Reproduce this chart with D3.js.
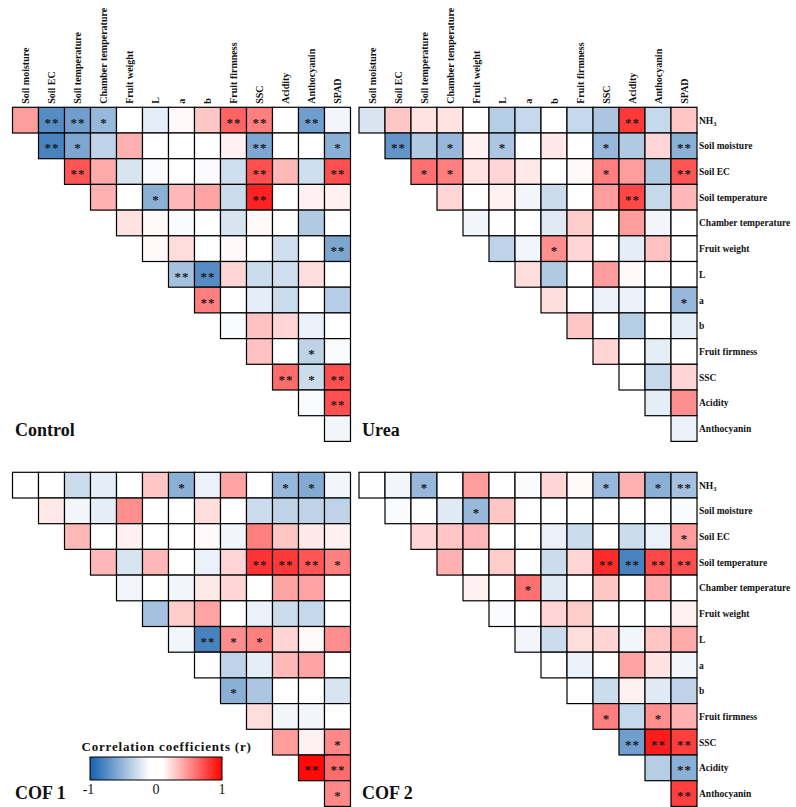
<!DOCTYPE html>
<html><head><meta charset="utf-8">
<script src="https://cdn.jsdelivr.net/npm/d3@7"></script>
<style>body{margin:0;background:#fff}svg{display:block}
svg text{font-family:"Liberation Serif","Times New Roman",serif}</style>
</head><body><svg id="chart" width="796" height="807"></svg>
<script>
const rowLabels = ["NH3","Soil moisture","Soil EC","Soil temperature","Chamber temperature","Fruit weight","L","a","b","Fruit firmness","SSC","Acidity","Anthocyanin"];
const colLabels = ["Soil moisture","Soil EC","Soil temperature","Chamber temperature","Fruit weight","L","a","b","Fruit firmness","SSC","Acidity","Anthocyanin","SPAD"];

const controlR = [
 [0.45,-0.75,-0.65,-0.5,0,-0.2,0.12,0.3,0.65,0.55,0,-0.65,-0.15],
 [-0.8,-0.6,-0.35,0.38,0,0,0,0.15,-0.6,0,0.08,-0.55],
 [0.7,0.4,-0.25,-0.12,0,-0.12,-0.28,0.72,0.35,-0.28,0.72],
 [0.38,0.08,-0.55,0.35,0.42,-0.3,0.88,0,0.15,0.15],
 [0.2,0.12,-0.12,0,-0.25,0.12,0.1,-0.4,0.08],
 [0.12,0.22,0,0.12,-0.1,-0.28,0,-0.6],
 [-0.45,-0.75,0.25,-0.3,-0.28,0.22,0.08],
 [0.55,0.08,-0.2,-0.3,0,-0.38],
 [-0.12,0.32,0.25,-0.18,0],
 [0.32,0,-0.35,-0.12],
 [0.62,-0.3,0.72],
 [-0.12,0.72],
 [-0.15]];
const controlSig = [
 [0,2,2,1,0,0,0,0,2,2,0,2,0],
 [2,1,0,0,0,0,0,0,2,0,0,1],
 [2,0,0,0,0,0,0,2,0,0,2],
 [0,0,1,0,0,0,2,0,0,0],
 [0,0,0,0,0,0,0,0,0],
 [0,0,0,0,0,0,0,2],
 [2,2,0,0,0,0,0],
 [2,0,0,0,0,0],
 [0,0,0,0,0],
 [0,0,1,0],
 [2,1,2],
 [0,2],
 [0]];

const ureaR = [
 [-0.25,0.3,0.2,0.2,0,-0.38,-0.32,-0.1,-0.32,-0.42,0.8,-0.32,0.3],
 [-0.7,-0.4,-0.5,0.15,-0.42,0,0.18,0,-0.5,-0.4,0.25,-0.55],
 [0.6,0.55,0.2,0.25,0.18,0,0.12,0.55,0.45,-0.4,0.7],
 [0.25,0,0.15,-0.15,-0.3,-0.08,0.45,0.75,-0.32,0.35],
 [-0.15,0.08,0.05,-0.22,0.28,0,0.45,-0.15,0.1],
 [-0.35,-0.15,0.5,0.25,0.08,-0.2,0.32,0.1],
 [0.22,-0.4,0,0.45,0.12,-0.08,0],
 [0.22,0,-0.18,-0.18,-0.1,-0.5],
 [0.3,-0.08,-0.38,0,-0.2],
 [0.25,-0.1,-0.2,0.1],
 [-0.1,-0.32,0.25],
 [-0.2,0.5],
 [-0.18]];
const ureaSig = [
 [0,0,0,0,0,0,0,0,0,0,2,0,0],
 [2,0,1,0,1,0,0,0,1,0,0,2],
 [1,1,0,0,0,0,0,1,0,0,2],
 [0,0,0,0,0,0,0,2,0,0],
 [0,0,0,0,0,0,0,0,0],
 [0,0,1,0,0,0,0,0],
 [0,0,0,0,0,0,0],
 [0,0,0,0,0,1],
 [0,0,0,0,0],
 [0,0,0,0],
 [0,0,0],
 [0,0],
 [0]];

const cof1R = [
 [0,0,-0.3,-0.2,0,0.3,-0.55,-0.18,0.42,0,-0.5,-0.58,-0.15],
 [0.18,-0.15,-0.2,0.5,-0.1,0.1,0.22,-0.1,-0.3,-0.35,-0.35,-0.35],
 [0.35,0,0.15,0.1,-0.05,0.12,-0.15,0.55,0.3,0.18,0.15],
 [0.35,-0.25,0.35,-0.1,-0.18,0.25,0.82,0.8,0.7,0.55],
 [-0.15,0,-0.15,0.18,0.25,0,0.42,0.42,0.08],
 [-0.45,0.28,0.42,-0.05,-0.18,-0.3,-0.32,-0.05],
 [-0.15,-0.8,0.5,0.55,0.25,0.12,0.5],
 [0.05,-0.35,-0.2,0.35,0.42,0],
 [-0.55,-0.42,-0.08,0,-0.25],
 [0.22,-0.15,-0.15,0],
 [0.45,0.15,0.52],
 [0.97,0.62],
 [0.52]];
const cof1Sig = [
 [0,0,0,0,0,0,1,0,0,0,1,1,0],
 [0,0,0,0,0,0,0,0,0,0,0,0],
 [0,0,0,0,0,0,0,0,0,0,0],
 [0,0,0,0,0,0,2,2,2,1],
 [0,0,0,0,0,0,0,0,0],
 [0,0,0,0,0,0,0,0],
 [0,2,1,1,0,0,0],
 [0,0,0,0,0,0],
 [1,0,0,0,0],
 [0,0,0,0],
 [0,0,1],
 [2,2],
 [1]];

const cof2R = [
 [0,-0.15,-0.5,0.05,0.45,0,-0.12,0.25,0.12,-0.5,0.38,-0.55,-0.45],
 [-0.12,-0.05,-0.22,-0.5,0.3,0,-0.08,0,0,0,0,-0.12],
 [0.25,0.3,0.35,0.08,-0.08,-0.18,-0.3,-0.08,-0.3,-0.18,0.45],
 [0.38,-0.08,0.28,-0.08,-0.3,0.25,0.85,-0.8,0.75,0.72],
 [0.15,0,0.6,-0.22,-0.1,0.3,-0.1,0.38,0],
 [-0.12,0,0.25,0.28,0,0,0,0.15],
 [-0.15,-0.3,0.22,0.25,-0.15,0.3,0.4],
 [-0.07,-0.18,0,0.42,0.2,-0.15],
 [-0.05,-0.3,0.15,-0.22,-0.35],
 [0.55,-0.32,0.5,0.38],
 [-0.65,0.9,0.78],
 [-0.38,-0.55],
 [0.78]];
const cof2Sig = [
 [0,0,1,0,0,0,0,0,0,1,0,1,2],
 [0,0,0,1,0,0,0,0,0,0,0,0],
 [0,0,0,0,0,0,0,0,0,0,1],
 [0,0,0,0,0,0,2,2,2,2],
 [0,0,1,0,0,0,0,0,0],
 [0,0,0,0,0,0,0,0],
 [0,0,0,0,0,0,0],
 [0,0,0,0,0,0],
 [0,0,0,0,0],
 [1,0,1,0],
 [2,2,2],
 [0,2],
 [2]];

const legendTitle = "Correlation coefficients (r)";
const legendTicks = [-1, 0, 1];

const svg = d3.select("#chart");
const color = d3.scaleLinear().domain([-1,-0.1,0.1,1])
  .range(["#1560ad","#ffffff","#ffffff","#ff0000"]).clamp(true);
const cellW = 26, cellH = 25.7;

const panels = [
 {name:"Control", r:controlR, sig:controlSig, x0:12.5, y0:107.3, top:true, right:false, tx:15, ty:436},
 {name:"Urea", r:ureaR, sig:ureaSig, x0:359, y0:107.3, top:true, right:true, tx:362, ty:436},
 {name:"COF 1", r:cof1R, sig:cof1Sig, x0:12.5, y0:472.3, top:false, right:false, tx:15, ty:799},
 {name:"COF 2", r:cof2R, sig:cof2Sig, x0:359, y0:472.3, top:false, right:true, tx:362, ty:799}
];

panels.forEach(p => {
  const x = d3.scaleBand().domain(colLabels).range([p.x0, p.x0 + cellW*13]);
  const y = d3.scaleBand().domain(rowLabels).range([p.y0, p.y0 + cellH*13]);
  const cells = [];
  p.r.forEach((row, i) => row.forEach((v, k) => cells.push({row: rowLabels[i], col: colLabels[i+k], v, s: p.sig[i][k]})));
  const g = svg.append("g");
  g.selectAll("rect.cell").data(cells).join("rect").attr("class","cell")
    .attr("x", d => x(d.col)).attr("y", d => y(d.row))
    .attr("width", x.bandwidth()).attr("height", y.bandwidth())
    .attr("fill", d => color(d.v)).attr("stroke", "#000").attr("stroke-width", 1.2);
  g.selectAll("text.sig").data(cells.filter(d => d.s > 0)).join("text").attr("class","sig")
    .attr("x", d => x(d.col) + x.bandwidth()/2 + (d.s === 2 ? 0.6 : 0))
    .attr("y", d => y(d.row) + y.bandwidth()/2 + 6.5)
    .attr("text-anchor", "middle")
    .attr("font-size", 13).attr("font-weight", "bold").attr("letter-spacing", d => d.s === 2 ? 1.2 : 0)
    .attr("fill", "#1a1a1a")
    .text(d => d.s === 2 ? "**" : "*");
  if (p.top) {
    g.selectAll("text.col").data(colLabels).join("text").attr("class","col")
      .attr("transform", d => `translate(${x(d) + x.bandwidth()/2 + 3.5},${p.y0 - 3.5}) rotate(-90)`)
      .attr("font-size", 10).attr("font-weight", "bold")
      .attr("fill", "#111").text(d => d);
  }
  if (p.right) {
    const rl = g.selectAll("text.row").data(rowLabels).join("text").attr("class","row")
      .attr("x", p.x0 + cellW*13 + 2).attr("y", d => y(d) + y.bandwidth()/2 + 3.5)
      .attr("font-size", 9.5).attr("font-weight", "bold")
      .attr("fill", "#111");
    rl.each(function(d) {
      const t = d3.select(this);
      if (d === "NH3") {
        t.append("tspan").text("NH");
        t.append("tspan").text("3").attr("font-size", 6.5).attr("dy", 2);
      } else t.text(d);
    });
  }
  svg.append("text").attr("x", p.tx).attr("y", p.ty)
    .attr("font-size", 18).attr("font-weight", "bold")
    .attr("fill", "#111").text(p.name);
});

// legend
const lx = d3.scaleLinear().domain([-1, 1]).range([90, 222]);
const defs = svg.append("defs");
const grad = defs.append("linearGradient").attr("id", "lg").attr("x1", "0%").attr("x2", "100%");
d3.range(0, 1.0001, 0.05).forEach(t => {
  grad.append("stop").attr("offset", (t*100) + "%").attr("stop-color", color(-1 + 2*t));
});
svg.append("rect").attr("x", lx(-1)).attr("y", 757).attr("width", lx(1) - lx(-1)).attr("height", 23)
  .attr("fill", "url(#lg)").attr("stroke", "#000").attr("stroke-width", 1);
svg.append("text").attr("x", 81.5).attr("y", 750.5)
  .attr("font-size", 13).attr("font-weight", "bold").attr("letter-spacing", 0.8).attr("fill", "#111")
  .text(legendTitle);
svg.selectAll("text.lt").data(legendTicks).join("text").attr("class","lt")
  .attr("x", d => lx(d) - (d < 0 ? 1.5 : 0)).attr("y", 794)
  .attr("text-anchor", "middle")
  .attr("font-size", 14).attr("fill", "#111")
  .text(d => d);
</script>
</body></html>
